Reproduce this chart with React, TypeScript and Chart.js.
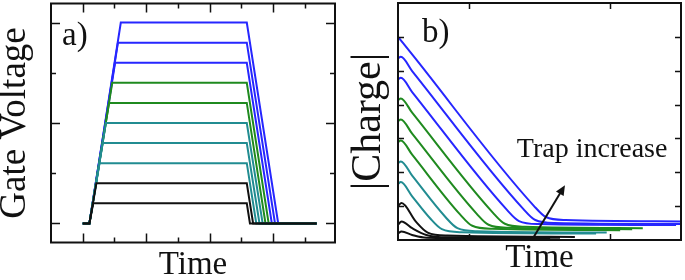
import React, { useEffect, useRef } from 'react';
import { Chart, registerables } from 'chart.js';

Chart.register(...registerables);

const SERIF = '"Liberation Serif", "Times New Roman", serif';
const BLUE = '#2626ff';
const GREEN = '#1f8a1f';
const TEAL = '#218c91';
const BLACK = '#111111';

// ---------- Panel a) Gate voltage pulses ----------
const gateLevels = [1, 2, 3, 4, 5, 6, 7, 8, 9, 10];
const gateColors = [BLACK, BLACK, TEAL, TEAL, TEAL, GREEN, GREEN, BLUE, BLUE, BLUE];
const gateRiseEnd = [0.33, 0.43, 0.53, 0.63, 0.73, 0.83, 0.93, 1.02, 1.11, 1.2];
const gateFallEnd = [5.27, 5.37, 5.47, 5.57, 5.67, 5.76, 5.86, 5.96, 6.06, 6.16];
const gateTimeStart = 0;
const gateRampStart = 0.21;
const gateFallStart = 5.17;
const gateTimeEnd = 7.37;
const gateXTicks = [0, 1, 2, 3, 4, 5, 6, 7];
const gateXMajor = [0, 2, 4, 6];
const gateYTicks = [0, 2.5, 5, 7.5, 10];
const gateYMajor = [0, 5, 10];

// ---------- Panel b) |Charge| transients (top to bottom) ----------
const chargeBlue1 = [[0, 6.0], [0.2, 5.48], [1.92, 1.01], [2.09, 0.68], [2.37, 0.59], [4.0, 0.55]];
const chargeBlue2 = [[0, 5.36], [0.04, 5.41], [0.2, 4.99], [1.77, 0.92], [1.94, 0.59], [2.22, 0.5], [3.99, 0.47]];
const chargeBlue3 = [[0, 4.74], [0.04, 4.79], [0.2, 4.37], [1.54, 0.89], [1.71, 0.56], [1.99, 0.47], [3.93, 0.44]];
const chargeGreen1 = [[0, 4.13], [0.04, 4.18], [0.2, 3.76], [1.34, 0.81], [1.51, 0.48], [1.79, 0.39], [3.46, 0.35]];
const chargeGreen2 = [[0, 3.51], [0.04, 3.56], [0.2, 3.14], [1.11, 0.78], [1.28, 0.45], [1.56, 0.36], [3.31, 0.32]];
const chargeGreen3 = [[0, 2.89], [0.04, 2.94], [0.2, 2.52], [0.88, 0.75], [1.05, 0.42], [1.33, 0.33], [3.14, 0.29]];
const chargeTeal1 = [[0, 2.27], [0.04, 2.32], [0.2, 1.9], [0.67, 0.68], [0.84, 0.35], [1.12, 0.26], [2.95, 0.22]];
const chargeTeal2 = [[0, 1.66], [0.04, 1.71], [0.2, 1.29], [0.45, 0.65], [0.62, 0.32], [0.9, 0.23], [2.8, 0.19]];
const chargeBlack1 = [[0, 1.0], [0.05, 1.09], [0.25, 0.55], [0.42, 0.22], [0.7, 0.13], [2.5, 0.09]];
const chargeBlack2 = [[0, 0.45], [0.05, 0.55], [0.2, 0.35], [0.4, 0.15], [0.7, 0.08], [2.29, 0.07]];
const chargeBlack3 = [[0, 0.2], [0.05, 0.25], [0.2, 0.15], [0.4, 0.07], [2.15, 0.05]];
const chargeCurves = [
  chargeBlack3, chargeBlack2, chargeBlack1, chargeTeal2, chargeTeal1,
  chargeGreen3, chargeGreen2, chargeGreen1, chargeBlue3, chargeBlue2, chargeBlue1,
];
const chargeColors = [BLACK, BLACK, BLACK, TEAL, TEAL, GREEN, GREEN, GREEN, BLUE, BLUE, BLUE];
const chargeXTicks = [1, 3];
const chargeYTicks = [1, 2, 3, 4, 5, 6];
const arrowFrom = [1.91, 0.06];
const arrowTo = [2.36, 1.62];
const trapLabelAt = [1.68, 2.44];

const frameTicksPlugin = {
  id: 'frameTicks',
  afterDatasetsDraw(chart: any, _args: any, opts: any) {
    const { ctx, chartArea } = chart;
    const { left, right, top, bottom } = chartArea;
    const xs = chart.scales.x;
    const ys = chart.scales.y;
    ctx.save();
    ctx.strokeStyle = BLACK;
    ctx.lineWidth = 1.5;
    ctx.beginPath();
    xs.ticks.forEach((t: any) => {
      const px = Math.round(xs.getPixelForValue(t.value)) + 0.5;
      const len = opts.xMajor.includes(t.value) ? opts.majorLen : opts.minorLen;
      ctx.moveTo(px, bottom);
      ctx.lineTo(px, bottom - len);
      ctx.moveTo(px, top);
      ctx.lineTo(px, top + len);
    });
    ys.ticks.forEach((t: any) => {
      const py = Math.round(ys.getPixelForValue(t.value)) + 0.5;
      const len = opts.yMajor.includes(t.value) ? opts.majorLen : opts.minorLen;
      ctx.moveTo(left, py);
      ctx.lineTo(left + len, py);
      ctx.moveTo(right, py);
      ctx.lineTo(right - len, py);
    });
    ctx.stroke();
    ctx.lineWidth = 2;
    ctx.strokeRect(left, top, right - left, bottom - top);

    // panel letter
    ctx.fillStyle = BLACK;
    ctx.textBaseline = 'alphabetic';
    ctx.textAlign = 'left';
    ctx.font = `33px ${SERIF}`;
    ctx.fillText(opts.letter, left + opts.letterDx, top + opts.letterDy);

    if (opts.arrow) {
      const x0 = xs.getPixelForValue(arrowFrom[0]);
      const y0 = ys.getPixelForValue(arrowFrom[1]);
      const x1 = xs.getPixelForValue(arrowTo[0]);
      const y1 = ys.getPixelForValue(arrowTo[1]);
      const ang = Math.atan2(y1 - y0, x1 - x0);
      const hl = 10;
      const hw = 4.5;
      ctx.lineWidth = 2;
      ctx.beginPath();
      ctx.moveTo(x0, y0);
      ctx.lineTo(x1 - Math.cos(ang) * hl * 0.8, y1 - Math.sin(ang) * hl * 0.8);
      ctx.stroke();
      ctx.beginPath();
      ctx.moveTo(x1, y1);
      ctx.lineTo(x1 - Math.cos(ang) * hl + Math.sin(ang) * hw, y1 - Math.sin(ang) * hl - Math.cos(ang) * hw);
      ctx.lineTo(x1 - Math.cos(ang) * hl - Math.sin(ang) * hw, y1 - Math.sin(ang) * hl + Math.cos(ang) * hw);
      ctx.closePath();
      ctx.fill();

      ctx.font = `28px ${SERIF}`;
      ctx.fillText('Trap increase', xs.getPixelForValue(trapLabelAt[0]), ys.getPixelForValue(trapLabelAt[1]));
    }
    ctx.restore();
  },
};

function axis(min: number, max: number, ticks: number[], title: string, size: number, lh: number, padTop: number, padBottom: number) {
  return {
    type: 'linear' as const,
    min,
    max,
    display: true,
    ticks: { display: false },
    grid: { display: false, drawTicks: false },
    border: { display: false },
    afterBuildTicks: (s: any) => {
      s.ticks = ticks.map((v) => ({ value: v }));
    },
    title: {
      display: true,
      text: title,
      color: BLACK,
      font: { family: SERIF, size, lineHeight: lh },
      padding: { top: padTop, bottom: padBottom },
    },
  };
}

function GatePanel() {
  const ref = useRef<HTMLCanvasElement>(null);
  useEffect(() => {
    const datasets = gateLevels.map((lvl, i) => ({
      label: `V${lvl}`,
      data: [
        { x: gateTimeStart, y: 0 },
        { x: gateRampStart, y: 0 },
        { x: gateRiseEnd[i], y: lvl },
        { x: gateFallStart, y: lvl },
        { x: gateFallEnd[i], y: 0 },
        { x: gateTimeEnd, y: 0 },
      ],
      borderColor: gateColors[i],
      borderWidth: 2,
      pointRadius: 0,
      tension: 0,
      fill: false,
    }));
    const chart = new Chart(ref.current!, {
      type: 'line',
      data: { datasets },
      options: {
        animation: false,
        responsive: false,
        devicePixelRatio: 1,
        layout: { padding: { left: 0, top: 3.5, right: 7, bottom: 0 } },
        plugins: {
          legend: { display: false },
          tooltip: { enabled: false },
          frameTicks: {
            xMajor: gateXMajor, yMajor: gateYMajor, majorLen: 9, minorLen: 5,
            letter: 'a)', letterDx: 11, letterDy: 41, arrow: false,
          },
        } as any,
        scales: {
          x: axis(-1, 7.95, gateXTicks, 'Time', 33, 0.8, 9.3, 1.8),
          y: axis(-0.95, 10.95, gateYTicks, 'Gate Voltage', 37, 0.7, 2.0, 23.1),
        } as any,
      },
      plugins: [frameTicksPlugin],
    });
    return () => chart.destroy();
  }, []);
  return <canvas ref={ref} width={342} height={280} style={{ position: 'absolute', left: 0, top: 0 }} />;
}

function ChargePanel() {
  const ref = useRef<HTMLCanvasElement>(null);
  useEffect(() => {
    const datasets = chargeCurves.map((pts, i) => ({
      label: `Q${i}`,
      data: pts.map(([x, y]) => ({ x, y })),
      borderColor: chargeColors[i],
      borderWidth: 2,
      pointRadius: 0,
      cubicInterpolationMode: 'monotone' as const,
      fill: false,
    }));
    const chart = new Chart(ref.current!, {
      type: 'line',
      data: { datasets },
      options: {
        animation: false,
        responsive: false,
        devicePixelRatio: 1,
        layout: { padding: { left: 0, top: 3, right: 4, bottom: 0 } },
        plugins: {
          legend: { display: false },
          tooltip: { enabled: false },
          frameTicks: {
            xMajor: chargeXTicks, yMajor: chargeYTicks, majorLen: 6, minorLen: 6,
            letter: 'b)', letterDx: 24, letterDy: 39, arrow: true,
          },
        } as any,
        scales: {
          x: axis(0, 4, chargeXTicks, 'Time', 33, 0.8, 4.8, 8.8),
          y: axis(0, 7, chargeYTicks, '|Charge|', 42, 0.8, 10.6, 11.8),
        } as any,
      },
      plugins: [frameTicksPlugin],
    });
    return () => chart.destroy();
  }, []);
  return <canvas ref={ref} width={343} height={280} style={{ position: 'absolute', left: 342, top: 0 }} />;
}

export default function App() {
  return (
    <div style={{ position: 'absolute', left: 0, top: 0, width: 685, height: 280, background: '#ffffff', overflow: 'hidden' }}>
      <GatePanel />
      <ChargePanel />
    </div>
  );
}
